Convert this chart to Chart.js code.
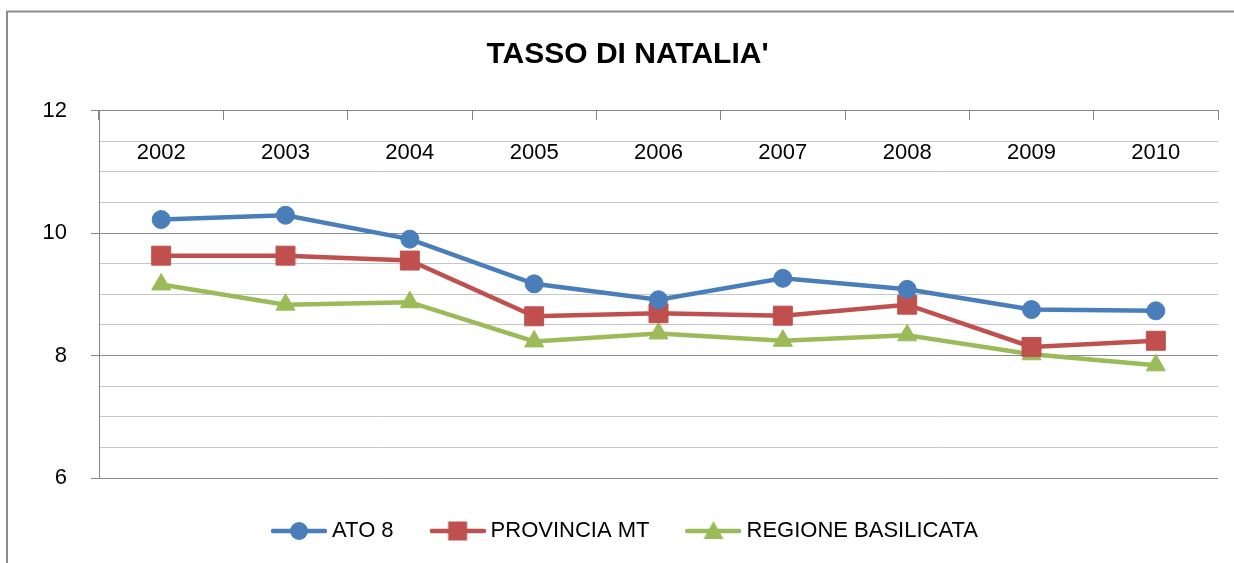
<!DOCTYPE html>
<html>
<head>
<meta charset="utf-8">
<script src="https://cdn.jsdelivr.net/npm/chart.js@4.4.1/dist/chart.umd.min.js"></script>
<style>
  html, body { margin: 0; padding: 0; background: #fff; }
  canvas { display: block; }
</style>
</head>
<body>
<canvas id="natalita-chart" width="1234" height="563"></canvas>
<script>
const years = ["2002", "2003", "2004", "2005", "2006", "2007", "2008", "2009", "2010"];
const ato8 = [10.22, 10.29, 9.90, 9.17, 8.91, 9.26, 9.08, 8.75, 8.73];
const provinciaMT = [9.63, 9.63, 9.55, 8.64, 8.69, 8.65, 8.83, 8.14, 8.24];
const regioneBasilicata = [9.16, 8.83, 8.87, 8.23, 8.36, 8.24, 8.33, 8.02, 7.84];
const yTickLabels = [6, 8, 10, 12];

const FONT = "'Liberation Sans', Arial, sans-serif";
const PAD_LEFT = 37;
const BLUE = "#4a7ebb";
const RED = "#c0504d";
const GREEN = "#9bbb59";

// legend icon: line with the marker in the middle, like Excel
function makeIcon(color, style) {
  const c = document.createElement("canvas");
  c.width = 56;
  c.height = 24;
  const ctx = c.getContext("2d");
  ctx.strokeStyle = color;
  ctx.fillStyle = color;
  ctx.lineWidth = 4.5;
  ctx.lineCap = "round";
  ctx.beginPath();
  ctx.moveTo(2, 12);
  ctx.lineTo(54, 12);
  ctx.stroke();
  ctx.beginPath();
  if (style === "circle") {
    ctx.arc(28, 12, 9, 0, Math.PI * 2);
  } else if (style === "rect") {
    ctx.rect(18.5, 2.5, 19, 19);
  } else {
    ctx.moveTo(28, 2);
    ctx.lineTo(38, 20);
    ctx.lineTo(18, 20);
    ctx.closePath();
  }
  ctx.fill();
  return c;
}

const legendIcons = [
  makeIcon(BLUE, "circle"),
  makeIcon(RED, "rect"),
  makeIcon(GREEN, "triangle"),
];

const frame = {
  id: "frame",
  beforeDraw(chart) {
    const ctx = chart.ctx;
    ctx.save();
    ctx.fillStyle = "#fff";
    ctx.fillRect(0, 0, chart.width, chart.height);
    ctx.strokeStyle = "#8c8c8c";
    ctx.lineWidth = 2;
    ctx.beginPath();
    ctx.moveTo(7, chart.height + 2);
    ctx.lineTo(7, 11.5);
    ctx.lineTo(chart.width + 2, 11.5);
    ctx.stroke();
    ctx.restore();
  },
};

const isMajor = (v) => yTickLabels.includes(v);

const lineSet = (label, data, color, style, radius) => ({
  label: label,
  data: data,
  borderColor: color,
  backgroundColor: color,
  borderWidth: 4.5,
  tension: 0,
  pointStyle: style,
  pointRadius: radius,
  pointHoverRadius: radius,
  pointBackgroundColor: color,
  pointBorderColor: color,
  pointBorderWidth: 1,
});

new Chart(document.getElementById("natalita-chart"), {
  type: "line",
  data: {
    labels: years,
    datasets: [
      lineSet("ATO 8", ato8, BLUE, "circle", 9),
      lineSet("PROVINCIA MT", provinciaMT, RED, "rect", 13.4),
      lineSet("REGIONE BASILICATA", regioneBasilicata, GREEN, "triangle", 11),
    ],
  },
  options: {
    responsive: false,
    animation: false,
    devicePixelRatio: 1,
    layout: { padding: { left: PAD_LEFT, right: 16, top: 0, bottom: 11 } },
    scales: {
      x: {
        type: "category",
        position: { y: 12 },
        offset: true,
        grid: {
          offset: true,
          drawOnChartArea: false,
          drawTicks: true,
          tickLength: 9,
          color: "#868686",
        },
        border: { display: true, color: "#868686" },
        ticks: {
          padding: 20,
          font: { family: FONT, size: 22 },
          color: "#000",
        },
      },
      y: {
        min: 6,
        max: 12,
        ticks: {
          stepSize: 0.5,
          maxTicksLimit: 20,
          autoSkip: false,
          padding: 24,
          font: { family: FONT, size: 22 },
          color: "#000",
          callback: (v) => (isMajor(v) ? String(v) : ""),
        },
        grid: {
          tickLength: 8,
          color: (ctx) => (isMajor(ctx.tick.value) ? "#8c8c8c" : "#c6c6c6"),
          tickColor: (ctx) => (isMajor(ctx.tick.value) ? "#868686" : "rgba(0,0,0,0)"),
        },
        border: { color: "#868686" },
        afterFit: (scale) => {
          scale.width = 99 - PAD_LEFT;
        },
      },
    },
    plugins: {
      title: {
        display: true,
        text: "TASSO DI NATALIA'",
        color: "#000",
        font: { family: FONT, size: 30, weight: "bold" },
        padding: { top: 37, bottom: 37.5 },
      },
      legend: {
        position: "bottom",
        labels: {
          usePointStyle: true,
          pointStyleWidth: 44,
          padding: 42,
          color: "#000",
          font: { family: FONT, size: 22 },
          generateLabels(chart) {
            const items = Chart.defaults.plugins.legend.labels.generateLabels(chart);
            items.forEach((item, i) => {
              item.pointStyle = legendIcons[i];
            });
            return items;
          },
        },
      },
      tooltip: { enabled: false },
    },
  },
  plugins: [frame],
});
</script>
</body>
</html>
